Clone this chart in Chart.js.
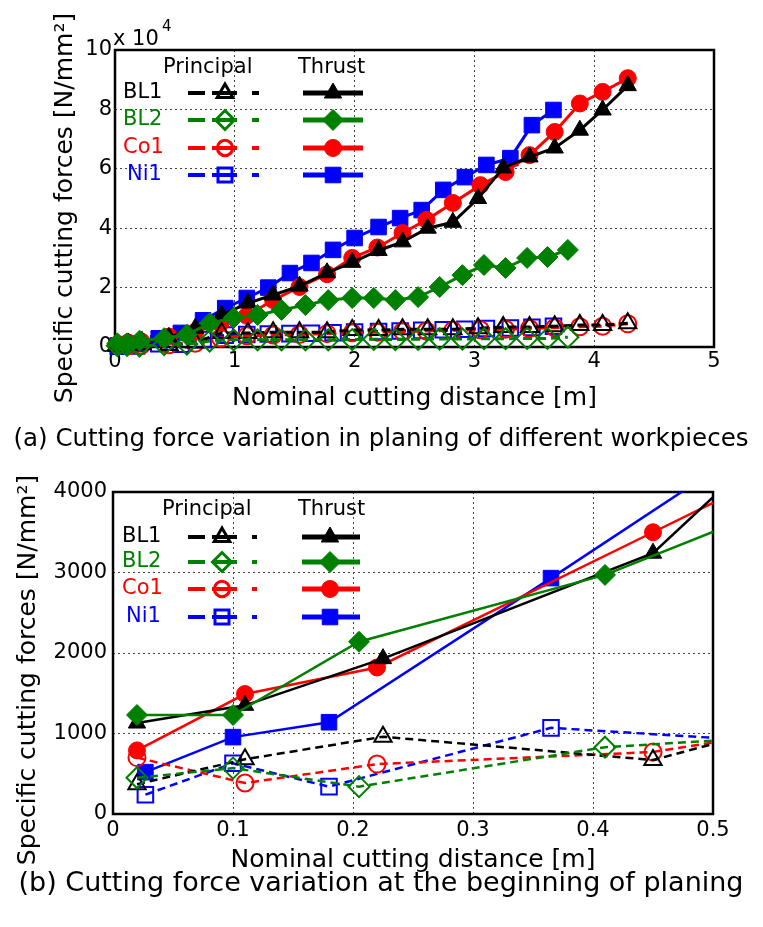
<!DOCTYPE html>
<html>
<head>
<meta charset="utf-8">
<script src="https://cdn.jsdelivr.net/npm/chart.js@4.4.0/dist/chart.umd.min.js"></script>
<style>
  html, body { margin: 0; padding: 0; background: #fff; }
  #wrap { position: relative; width: 763px; height: 927px; }
  canvas { position: absolute; left: 0; }
</style>
</head>
<body>
<div id="wrap">
  <canvas id="panelA" width="763" height="463" style="top:0"></canvas>
  <canvas id="panelB" width="763" height="464" style="top:463px"></canvas>
</div>
<script>
// Nominal cutting distance [m] and specific cutting forces [N/mm²] per workpiece
const bl1Distance  = [0.02, 0.11, 0.225, 0.45, 0.67, 0.89, 1.11, 1.32, 1.54, 1.77, 1.98, 2.2, 2.4, 2.61, 2.82, 3.03, 3.24, 3.46, 3.67, 3.88, 4.07, 4.28];
const bl1Thrust    = [1130, 1350, 1930, 3240, 6300, 10800, 14800, 17500, 20500, 25000, 28500, 32500, 35400, 40000, 42000, 50000, 60300, 64000, 67000, 73000, 79800, 88000];
const bl1Principal = [370, 680, 960, 670, 1550, 4700, 4700, 5000, 5000, 5000, 5700, 5700, 6000, 6000, 6000, 6300, 6700, 6700, 7000, 7400, 7400, 8000];

const bl2Distance  = [0.02, 0.1, 0.205, 0.41, 0.6, 0.79, 0.99, 1.19, 1.39, 1.59, 1.78, 1.98, 2.16, 2.34, 2.53, 2.71, 2.9, 3.08, 3.26, 3.44, 3.61, 3.78];
const bl2Thrust    = [1230, 1230, 2140, 2970, 4100, 8000, 9800, 10800, 12500, 14100, 15800, 16500, 16500, 15800, 16800, 20200, 24200, 27600, 26600, 30000, 30300, 32700];
const bl2Principal = [450, 570, 340, 830, 1000, 2000, 2400, 2400, 2400, 2400, 2400, 2500, 2600, 2500, 2600, 2700, 2700, 2800, 2800, 2900, 2900, 3300];

const co1Distance  = [0.02, 0.11, 0.22, 0.45, 0.67, 0.88, 1.1, 1.32, 1.54, 1.77, 1.98, 2.19, 2.4, 2.6, 2.82, 3.05, 3.26, 3.46, 3.67, 3.88, 4.07, 4.28];
const co1Thrust    = [790, 1490, 1820, 3500, 5100, 8000, 10500, 15800, 20200, 24500, 30000, 33500, 38400, 42800, 48500, 54500, 58900, 64600, 72400, 82000, 85900, 90500];
const co1Principal = [700, 385, 620, 770, 1290, 3000, 3800, 4000, 4200, 4500, 4800, 5000, 5200, 5400, 5600, 5800, 6000, 6200, 6500, 6800, 7000, 7800];

const ni1Distance  = [0.027, 0.1, 0.18, 0.365, 0.55, 0.735, 0.92, 1.1, 1.28, 1.46, 1.64, 1.82, 2.0, 2.2, 2.38, 2.56, 2.74, 2.92, 3.1, 3.3, 3.48, 3.66];
const ni1Thrust    = [520, 955, 1140, 2930, 4750, 9000, 13100, 16500, 20000, 24900, 28300, 32700, 36700, 40400, 43400, 46100, 52900, 57200, 61300, 63600, 74700, 79800];
const ni1Principal = [240, 630, 340, 1070, 900, 2500, 4000, 4200, 4400, 4500, 4600, 4800, 5000, 5200, 5400, 5600, 5800, 6000, 6200, 6400, 6600, 7000];

// Legend / tick text
const workpieceNames = ['BL1', 'BL2', 'Co1', 'Ni1'];
const forceComponents = ['Principal', 'Thrust'];
const xAxisTitle = 'Nominal cutting distance [m]';
const yAxisTitle = 'Specific cutting forces [N/mm²]';
const captionA = '(a) Cutting force variation in planing of different workpieces';
const captionB = '(b) Cutting force variation at the beginning of planing';

const FONT = "'DejaVu Sans', sans-serif";

const workpieces = {
  BL1: { dist: bl1Distance, thrust: bl1Thrust, principal: bl1Principal, color: '#000000', shape: 'triangle', radius: 10 },
  BL2: { dist: bl2Distance, thrust: bl2Thrust, principal: bl2Principal, color: '#008000', shape: 'rectRot', radius: 10.5 },
  Co1: { dist: co1Distance, thrust: co1Thrust, principal: co1Principal, color: '#ff0000', shape: 'circle', radius: 8.5 },
  Ni1: { dist: ni1Distance, thrust: ni1Thrust, principal: ni1Principal, color: '#0000ff', shape: 'rect', radius: 11 }
};
// first entry is drawn on top
const drawOrder = ['BL2', 'BL1', 'Co1', 'Ni1'];

function points(xs, ys) {
  return xs.map((x, i) => ({ x: x, y: ys[i] }));
}

function buildDatasets(lineW, dash, clip) {
  const sets = [];
  drawOrder.forEach(name => {
    const w = workpieces[name];
    sets.push({
      label: name + ' Thrust',
      data: points(w.dist, w.thrust),
      borderColor: w.color, backgroundColor: w.color,
      borderWidth: lineW, tension: 0,
      pointStyle: w.shape, pointRadius: w.radius,
      pointBackgroundColor: w.color, pointBorderColor: w.color, pointBorderWidth: 1,
      clip: clip
    });
    sets.push({
      label: name + ' Principal',
      data: points(w.dist, w.principal),
      borderColor: w.color, backgroundColor: 'rgba(0,0,0,0)',
      borderWidth: lineW, borderDash: dash, tension: 0,
      pointStyle: w.shape, pointRadius: w.radius,
      pointBackgroundColor: 'rgba(0,0,0,0)', pointBorderColor: w.color, pointBorderWidth: 2,
      clip: clip
    });
  });
  return sets;
}

function drawMarker(ctx, shape, radius, x, y, fill, stroke, bw) {
  ctx.save();
  ctx.setLineDash([]);
  ctx.fillStyle = fill;
  ctx.strokeStyle = stroke;
  ctx.lineWidth = bw;
  Chart.helpers.drawPoint(ctx, { pointStyle: shape, radius: radius, rotation: 0, borderWidth: bw }, x, y);
  ctx.restore();
}

function decorPlugin(g) {
  return {
    id: 'decor',
    beforeDatasetsDraw(chart) {
      const { ctx, chartArea: a } = chart;
      ctx.save();
      ctx.strokeStyle = '#000';
      ctx.lineWidth = 2.5;
      ctx.strokeRect(a.left, a.top, a.right - a.left, a.bottom - a.top);
      ctx.restore();
    },
    afterDraw(chart) {
      const ctx = chart.ctx;
      const a = chart.chartArea;
      ctx.save();
      ctx.fillStyle = '#000';

      // axis titles
      ctx.font = '25px ' + FONT;
      ctx.textAlign = 'center';
      ctx.textBaseline = 'alphabetic';
      ctx.fillText(xAxisTitle, (a.left + a.right) / 2, g.xTitleY);
      ctx.save();
      ctx.translate(g.yTitleX, g.yTitleY);
      ctx.rotate(-Math.PI / 2);
      ctx.textBaseline = 'middle';
      ctx.fillText(yAxisTitle, 0, 0);
      ctx.restore();

      // caption
      ctx.font = g.captionSize + 'px ' + FONT;
      ctx.fillText(g.caption, g.captionX, g.captionY);

      // exponent note
      if (g.exponent) {
        ctx.textAlign = 'left';
        ctx.font = '21px ' + FONT;
        ctx.fillText('x 10', g.exponent.x, g.exponent.y);
        ctx.font = '15px ' + FONT;
        ctx.fillText('4', g.exponent.x + 49, g.exponent.y - 14);
      }

      // legend
      const L = g.legend;
      ctx.font = '21px ' + FONT;
      ctx.textAlign = 'left';
      ctx.textBaseline = 'middle';
      ctx.fillStyle = '#000';
      ctx.fillText(forceComponents[0], L.principalHeadX, L.headY);
      ctx.fillText(forceComponents[1], L.thrustHeadX, L.headY);
      workpieceNames.forEach((name, i) => {
        const w = workpieces[name];
        const y = L.rows[i];
        ctx.fillStyle = w.color;
        ctx.fillText(name, L.labelX + (name === 'Ni1' ? 4 : 0), y);
        // principal: dashed
        ctx.save();
        ctx.strokeStyle = w.color;
        ctx.lineWidth = 4;
        ctx.setLineDash([17, 7, 25, 15]);
        ctx.beginPath();
        ctx.moveTo(L.prinX0, y);
        ctx.lineTo(L.prinX1, y);
        ctx.stroke();
        ctx.restore();
        drawMarker(ctx, w.shape, w.radius * 0.9, L.prinMark, y, 'rgba(0,0,0,0)', w.color, 3);
        // thrust: solid
        ctx.save();
        ctx.strokeStyle = w.color;
        ctx.lineWidth = 5;
        ctx.setLineDash([]);
        ctx.beginPath();
        ctx.moveTo(L.thrX0, y);
        ctx.lineTo(L.thrX1, y);
        ctx.stroke();
        ctx.restore();
        drawMarker(ctx, w.shape, w.radius, L.thrMark, y, w.color, w.color, 1);
      });
      ctx.restore();
    }
  };
}

function makeChart(canvasId, g) {
  const tickFont = { family: FONT, size: 21 };
  return new Chart(document.getElementById(canvasId), {
    type: 'line',
    data: { datasets: buildDatasets(g.lineW, g.dash, g.clip) },
    options: {
      responsive: false,
      maintainAspectRatio: false,
      devicePixelRatio: 1,
      animation: false,
      events: [],
      layout: { padding: { left: 0, top: g.area.top, right: g.canvasW - g.area.right, bottom: 0 } },
      plugins: { legend: { display: false }, tooltip: { enabled: false }, title: { display: false } },
      scales: {
        x: {
          type: 'linear', min: 0, max: g.xMax,
          ticks: { stepSize: g.xStep, font: tickFont, color: '#000', padding: g.xTickPad, maxRotation: 0, autoSkip: false, callback: g.xLabel },
          grid: { color: '#444', lineWidth: 1, drawTicks: false },
          border: { display: false, dash: [2, 3] },
          afterFit(s) { s.height = g.canvasH - g.area.bottom; }
        },
        y: {
          type: 'linear', min: 0, max: g.yMax,
          ticks: { stepSize: g.yStep, font: tickFont, color: '#000', padding: g.yTickPad, autoSkip: false, callback: g.yLabel },
          grid: { color: '#444', lineWidth: 1, drawTicks: false },
          border: { display: false, dash: [2, 3] },
          afterFit(s) { s.width = g.area.left; }
        }
      }
    },
    plugins: [decorPlugin(g)]
  });
}

// (a) full planing run
makeChart('panelA', {
  canvasW: 763, canvasH: 463,
  area: { left: 115, top: 50, right: 714, bottom: 347 },
  xMax: 5, xStep: 1, yMax: 100000, yStep: 20000,
  xLabel: v => String(v), yLabel: v => String(v / 10000),
  xTickPad: 2, yTickPad: 3,
  lineW: 3, dash: [9, 5], clip: false,
  xTitleY: 405, yTitleX: 65, yTitleY: 208,
  caption: captionA, captionX: 381, captionY: 446, captionSize: 24.5,
  exponent: { x: 113, y: 45 },
  legend: { headY: 68, principalHeadX: 163, thrustHeadX: 298, rows: [93, 120, 148, 175], labelX: 123,
            prinX0: 188, prinX1: 259, prinMark: 225, thrX0: 303, thrX1: 363, thrMark: 333 }
});

// (b) beginning of planing
makeChart('panelB', {
  canvasW: 763, canvasH: 464,
  area: { left: 113, top: 29, right: 713, bottom: 351 },
  xMax: 0.5, xStep: 0.1, yMax: 4000, yStep: 1000,
  xLabel: v => (v === 0 ? '0' : v.toFixed(1)), yLabel: v => String(v),
  xTickPad: 4, yTickPad: 6,
  lineW: 2.5, dash: [8, 5], clip: 0,
  xTitleY: 404, yTitleX: 28, yTitleY: 207,
  caption: captionB, captionX: 381, captionY: 428, captionSize: 27,
  exponent: null,
  legend: { headY: 47, principalHeadX: 162, thrustHeadX: 298, rows: [74, 99, 126, 154], labelX: 122,
            prinX0: 188, prinX1: 257, prinMark: 222, thrX0: 302, thrX1: 360, thrMark: 330 }
});
</script>
</body>
</html>
